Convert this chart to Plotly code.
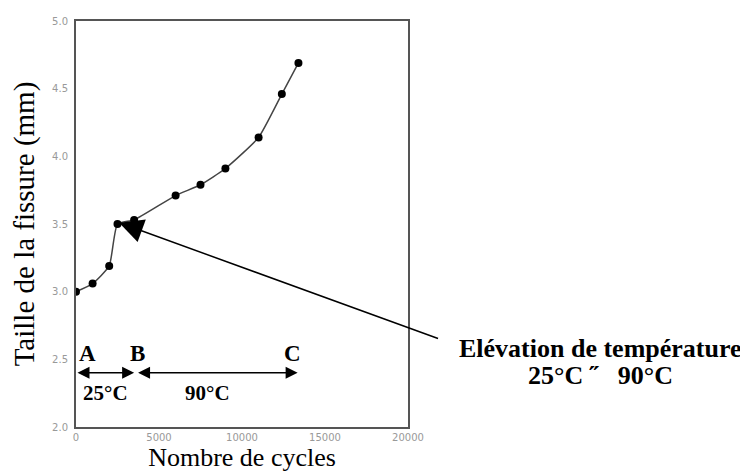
import plotly.graph_objects as go

# crack size vs number of cycles
cycles = [0, 1000, 2000, 2500, 3500, 6000, 7500, 9000, 11000, 12400, 13400]
crack_mm = [3.00, 3.06, 3.19, 3.50, 3.53, 3.71, 3.79, 3.91, 4.14, 4.46, 4.69]

x_ticks = [0, 5000, 10000, 15000, 20000]
x_tick_labels = ["0", "5000", "10000", "15000", "20000"]
y_ticks = [2.0, 2.5, 3.0, 3.5, 4.0, 4.5, 5.0]
y_tick_labels = ["2.0", "2.5", "3.0", "3.5", "4.0", "4.5", "5.0"]

# temperature phases: A -> B at 25°C, B -> C at 90°C
phase_points = ["A", "B", "C"]
phase_cycles = [0, 3500, 13350]
phase_temps = ["25°C", "90°C"]
phase_level = 2.40

SERIF = "Liberation Serif, Times New Roman, serif"
FRAME = "#555555"

# the page body has an 8px margin, so the margins are trimmed to compensate
PAD = 8
W, H = 748, 474
L, T, PW, PH = 76 - PAD, 15 - PAD, 332, 412


def page_x(px):
    return (px - 76) / PW


def page_y(py):
    return (427 - py) / PH


fig = go.Figure()
fig.add_trace(
    go.Scatter(
        x=cycles,
        y=crack_mm,
        mode="lines+markers",
        line=dict(color="#444444", width=1.5, shape="spline", smoothing=0.5),
        marker=dict(color="black", size=8),
        showlegend=False,
        hoverinfo="skip",
    )
)

annotations = []

# double-headed arrows between the phase points
for i in range(len(phase_cycles) - 1):
    x0 = phase_cycles[i]
    x1 = phase_cycles[i + 1]
    annotations.append(dict(
        x=x1, y=phase_level, ax=x0 + (0 if i == 0 else 150), ay=phase_level,
        xref="x", yref="y", axref="x", ayref="y",
        text="", showarrow=True, arrowhead=2, startarrowhead=2,
        arrowside="end+start", arrowwidth=1.5, arrowsize=1.6, startarrowsize=1.6,
        arrowcolor="black",
    ))
    annotations.append(dict(
        x=(x0 + x1) / 2, y=phase_level - 0.15, xref="x", yref="y",
        xshift=0 if i == 0 else -8,
        text="<b>%s</b>" % phase_temps[i], showarrow=False,
        font=dict(family=SERIF, size=21, color="black"),
    ))

label_shift = {"A": 11, "B": 3, "C": -5}
for name, xc in zip(phase_points, phase_cycles):
    annotations.append(dict(
        x=xc, y=phase_level + 0.14, xref="x", yref="y",
        text="<b>%s</b>" % name, showarrow=False,
        xshift=label_shift[name],
        font=dict(family=SERIF, size=23, color="black"),
    ))

# long pointer to the temperature jump
annotations.append(dict(
    x=2600, y=3.51, xref="x", yref="y",
    ax=21900, ay=2.65, axref="x", ayref="y",
    text="", showarrow=True, arrowhead=2, arrowwidth=1.5, arrowsize=3.2,
    arrowcolor="black",
))
for line_text, py in [("Elévation de température", 347), ("25°C ˝   90°C", 375)]:
    annotations.append(dict(
        x=page_x(600), y=page_y(py), xref="paper", yref="paper",
        xanchor="center", yanchor="middle",
        text="<b>%s</b>" % line_text, showarrow=False,
        font=dict(family=SERIF, size=26, color="black"),
    ))

fig.update_layout(
    width=W,
    height=H,
    paper_bgcolor="white",
    plot_bgcolor="white",
    margin=dict(l=L, r=W - L - PW, t=T, b=H - T - PH),
    annotations=annotations,
)

fig.update_xaxes(
    range=[0, 20000],
    tickvals=x_ticks,
    ticktext=x_tick_labels,
    showgrid=False,
    zeroline=False,
    showline=True,
    mirror=True,
    linecolor=FRAME,
    linewidth=2,
    tickfont=dict(family="DejaVu Sans", size=10, color="#999999"),
    title=dict(text="Nombre de cycles", font=dict(family=SERIF, size=26, color="black"), standoff=6),
)
fig.update_yaxes(
    range=[2.0, 5.0],
    tickvals=y_ticks,
    ticktext=y_tick_labels,
    showgrid=False,
    zeroline=False,
    showline=True,
    mirror=True,
    linecolor=FRAME,
    linewidth=2,
    ticklabelstandoff=4,
    tickfont=dict(family="DejaVu Sans", size=10, color="#999999"),
    title=dict(text="Taille de la fissure (mm)", font=dict(family=SERIF, size=29, color="black"), standoff=12),
)

fig.write_html("out.html")
